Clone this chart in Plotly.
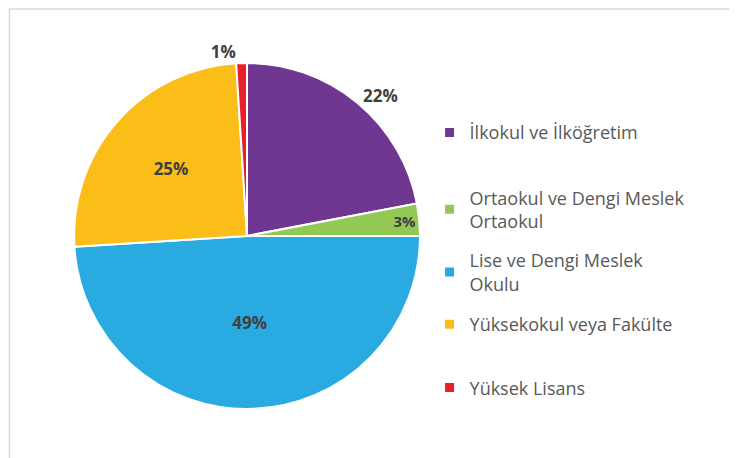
import plotly.graph_objects as go

# ── Data ──────────────────────────────────────────────
categories = [
    "İlkokul ve İlköğretim",
    "Ortaokul ve Dengi Meslek<br>Ortaokul",
    "Lise ve Dengi Meslek<br>Okulu",
    "Yüksekokul veya Fakülte",
    "Yüksek Lisans",
]
shares = [22, 3, 49, 25, 1]
colors = ["#6F3792", "#92C955", "#29ABE2", "#FBBD17", "#E8202A"]
label_pos = ["outside", "inside", "inside", "inside", "outside"]

# legend row tops (paper y), one legend per entry so the spacing follows the original
legend_tops = [0.768, 0.626, 0.489, 0.349, 0.211]

fig = go.Figure()

fig.add_trace(
    go.Pie(
        labels=categories,
        values=shares,
        sort=False,
        direction="clockwise",
        rotation=0,
        marker=dict(colors=colors, line=dict(color="white", width=2)),
        texttemplate="<b>%{percent:.0%}</b>",
        textposition=label_pos,
        insidetextorientation="horizontal",
        textfont=dict(family="Open Sans", size=17, color="#404040"),
        domain=dict(x=[0.0896, 0.559], y=[0.1245, 0.88]),
        hoverinfo="label+percent",
        showlegend=False,
    )
)

# legend entries
layout_legends = {}
for i, (name, col) in enumerate(zip(categories, colors)):
    key = "legend" if i == 0 else f"legend{i + 1}"
    fig.add_trace(
        go.Scatter(
            x=[None], y=[None], mode="markers", name=name,
            marker=dict(symbol="square", size=9, color=col),
            legend=key, hoverinfo="skip",
        )
    )
    layout_legends[key] = dict(
        x=0.572, y=legend_tops[i], xanchor="left", yanchor="top",
        font=dict(family="Open Sans", size=18, color="#595959"),
        itemwidth=30, bgcolor="rgba(0,0,0,0)",
    )

fig.update_layout(
    width=737,
    height=458,
    margin=dict(l=0, r=0, t=0, b=0),
    paper_bgcolor="white",
    plot_bgcolor="white",
    showlegend=True,
    xaxis=dict(visible=False),
    yaxis=dict(visible=False),
    shapes=[
        dict(type="rect", xref="paper", yref="paper",
             x0=0.002, y0=-0.05, x1=1.05, y1=0.998,
             line=dict(color="#D9D9D9", width=1.5), fillcolor="rgba(0,0,0,0)"),
    ],
    **layout_legends,
)

fig.write_html("out.html")
